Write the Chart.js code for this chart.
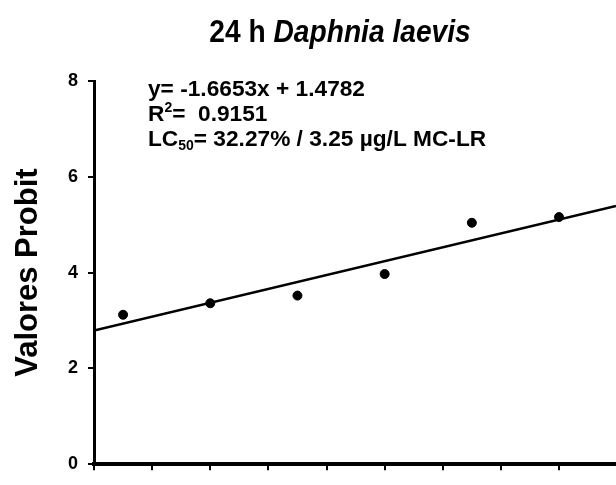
<!DOCTYPE html>
<html>
<head>
<meta charset="utf-8">
<script src="https://cdn.jsdelivr.net/npm/chart.js@4.4.0/dist/chart.umd.min.js"></script>
<style>
  html, body { margin: 0; padding: 0; background: #fff; overflow: hidden; }
  #wrap { position: relative; width: 616px; height: 485px; }
</style>
</head>
<body>
<div id="wrap"><canvas id="probitChart" width="616" height="485"></canvas></div>
<script>
'use strict';
/*---------------------------------*/
/*-------------- Data -------------*/
/*---------------------------------*/
// concentration position of each test group on the x axis
let concX = [0.5, 2, 3.5, 5, 6.5, 8];
// observed probit value of each group
let probitY = [3.12, 3.36, 3.52, 3.97, 5.04, 5.16];
// regression line, start and end
let fitX = [0, 8.98];
let fitY = [2.79, 5.39];
let yTickValues = [0, 2, 4, 6, 8];

let titleStart = '24 h ';
let titleSpecies = 'Daphnia laevis';
let eqText = 'y= -1.6653x + 1.4782';
let r2Value = '0.9151';
let lcText = '= 32.27% / 3.25 µg/L MC-LR';

const FONT = '"Liberation Sans", Arial, Helvetica, sans-serif';

/*---------------------------------*/
/*-------- Title + equation -------*/
/*---------------------------------*/
// draws a row of text pieces, squeezed by sx; pieces may be raised or lowered
function drawPieces(ctx, x, y, sx, pieces) {
  ctx.save();
  ctx.translate(x, y);
  ctx.scale(sx, 1);
  let cx = 0;
  pieces.forEach(function (p) {
    ctx.font = p.font;
    ctx.fillText(p.text, cx, p.dy || 0);
    cx += ctx.measureText(p.text).width;
  });
  ctx.restore();
  return cx * sx;
}

function piecesWidth(ctx, pieces) {
  let w = 0;
  pieces.forEach(function (p) {
    ctx.font = p.font;
    w += ctx.measureText(p.text).width;
  });
  return w;
}

const textPlugin = {
  id: 'probitText',
  afterDraw(chart) {
    const ctx = chart.ctx;
    ctx.save();
    ctx.fillStyle = '#000';
    ctx.textBaseline = 'alphabetic';
    ctx.textAlign = 'left';

    // title, species name in italics
    const titlePieces = [
      { text: titleStart, font: 'bold 32px ' + FONT },
      { text: titleSpecies, font: 'italic bold 32px ' + FONT },
    ];
    const tsx = 0.88;
    const tw = piecesWidth(ctx, titlePieces) * tsx;
    drawPieces(ctx, 340 - tw / 2, 42, tsx, titlePieces);

    // regression equation block
    const fe = 'bold 22.7px ' + FONT;
    const fs = 'bold 14px ' + FONT;
    const left = 148;
    const esx = 1.0;
    drawPieces(ctx, left, 96, esx, [{ text: eqText, font: fe }]);
    drawPieces(ctx, left, 121, esx, [
      { text: 'R', font: fe },
      { text: '2', font: fs, dy: -9 },
      { text: '=  ' + r2Value, font: fe },
    ]);
    drawPieces(ctx, left, 146, esx, [
      { text: 'LC', font: fe },
      { text: '50', font: fs, dy: 4 },
      { text: lcText, font: fe },
    ]);
    ctx.restore();
  },
};

/*---------------------------------*/
/*-------------- Chart ------------*/
/*---------------------------------*/
let points = [];
for (let i = 0; i < concX.length; i++) {
  points.push({ x: concX[i], y: probitY[i] });
}
let fitPoints = [];
for (let i = 0; i < fitX.length; i++) {
  fitPoints.push({ x: fitX[i], y: fitY[i] });
}

const axisGrid = {
  drawOnChartArea: false,
  color: '#000',
  lineWidth: 2,
  tickLength: 6,
};

const config = {
  type: 'scatter',
  data: {
    datasets: [
      {
        label: 'Probit',
        data: points,
        backgroundColor: '#000',
        borderColor: '#000',
        pointRadius: 4.5,
        pointHoverRadius: 4.5,
        showLine: false,
      },
      {
        label: 'Regresión',
        type: 'line',
        data: fitPoints,
        borderColor: '#000',
        borderWidth: 2.5,
        pointRadius: 0,
        fill: false,
      },
    ],
  },
  options: {
    responsive: false,
    animation: false,
    layout: { autoPadding: false, padding: { top: 81, left: 0, right: 0, bottom: 0 } },
    plugins: {
      legend: { display: false },
      tooltip: { enabled: false },
    },
    scales: {
      x: {
        type: 'linear',
        min: 0,
        max: 8.98,
        ticks: { stepSize: 1, includeBounds: false, display: false },
        grid: axisGrid,
        border: { color: '#000', width: 4 },
        afterFit: function (scale) { scale.height = 15; },
      },
      y: {
        type: 'linear',
        min: 0,
        max: 8,
        afterBuildTicks: function (scale) {
          scale.ticks = yTickValues.map(function (v) { return { value: v }; });
        },
        ticks: {
          color: '#000',
          padding: 10,
          font: { family: FONT, size: 18, weight: 'bold' },
        },
        grid: axisGrid,
        border: { color: '#000', width: 3 },
        title: {
          display: true,
          text: 'Valores Probit',
          color: '#000',
          font: { family: FONT, size: 31, weight: 'bold' },
          padding: { top: 10, bottom: 0 },
        },
        afterFit: function (scale) { scale.width = 94; },
      },
    },
  },
  plugins: [textPlugin],
};

const probitChart = new Chart(document.getElementById('probitChart'), config);
</script>
</body>
</html>
